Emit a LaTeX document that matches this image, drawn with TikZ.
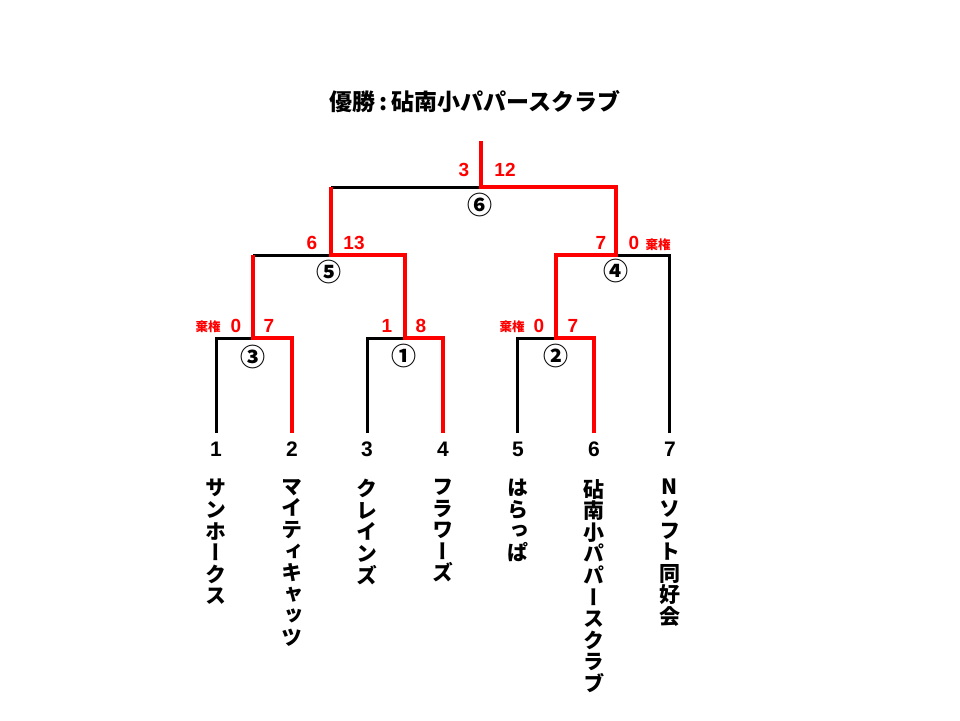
\documentclass[tikz,border=0pt]{standalone}
\usepackage{fontspec}
\newfontfamily\jp{Noto Sans CJK JP}
\newfontfamily\jpv{Noto Sans CJK JP}[RawFeature=+vert]
\newfontfamily\lat{Liberation Sans}
\begin{document}
\begin{tikzpicture}[x=1pt,y=-1pt,
  blk/.style={line width=3pt,black,line join=miter},
  win/.style={line width=4pt,red,line join=miter},
  score/.style={inner sep=0pt,text=red,font=\lat\bfseries\fontsize{19}{19}\selectfont},
  forfeit/.style={inner sep=0pt,text=red,font=\jp\bfseries\fontsize{12.5}{12.5}\selectfont},
  mnum/.style={inner sep=0pt,font=\jp\bfseries\fontsize{25}{25}\selectfont},
  seed/.style={inner sep=0pt,font=\lat\bfseries\fontsize{21}{21}\selectfont},
  team/.style={anchor=north,inner sep=0pt,align=center,font=\jpv\bfseries\fontsize{21}{21.6}\selectfont}]
\useasboundingbox (0,0) rectangle (960,720);
% coordinates
\coordinate (t1) at (216,433);
\coordinate (t2) at (292,433);
\coordinate (t3) at (367,433);
\coordinate (t4) at (443,433);
\coordinate (t5) at (517,433);
\coordinate (t6) at (594,433);
\coordinate (t7) at (669,433);
\coordinate (m3) at (253,338);
\coordinate (m1) at (405,338);
\coordinate (m2) at (556,338);
\coordinate (a3) at (253,255);
\coordinate (a1) at (405,255);
\coordinate (a2) at (556,255);
\coordinate (m5) at (331,255);
\coordinate (m4) at (616,255);
\coordinate (b5) at (331,187);
\coordinate (b4) at (616,187);
\coordinate (m6) at (481,187);
\coordinate (top) at (481,141);
% losing branches
\draw[blk] (t1) |- (m3);
\draw[blk] (t3) |- (m1);
\draw[blk] (t5) |- (m2);
\draw[blk] (t7) |- (m4);
\draw[blk] (a3) -- (m5);
\draw[blk] (b5) -- (m6);
% winning branches
\draw[win] (t2) |- (m3) -- (a3);
\draw[win] (t4) |- (m1) -- (a1) -- (m5) -- (b5);
\draw[win] (t6) |- (m2) -- (a2) -- (m4) -- (b4) -- (m6) -- (top);
% title
\node[inner sep=0pt,font=\jp\bfseries\fontsize{23}{23}\selectfont] (title) at (475,102) {優勝\,:\,砧南小パパースクラブ};
% match numbers
\node[mnum] (n6) at (480,205) {⑥};
\node[mnum] (n5) at (329,272) {⑤};
\node[mnum] (n4) at (616,271) {④};
\node[mnum] (n3) at (253,357) {③};
\node[mnum] (n1) at (404,356) {①};
\node[mnum] (n2) at (556,356) {②};
% scores
\node[score] (s6l) at (464,170) {3};
\node[score] (s6r) at (505,170) {12};
\node[score] (s5l) at (312,243) {6};
\node[score] (s5r) at (354,243) {13};
\node[score] (s4l) at (601,243) {7};
\node[score] (s4r) at (634,243) {0};
\node[forfeit] (f4) at (658,245) {棄権};
\node[forfeit] (f3) at (208,327) {棄権};
\node[score] (s3l) at (236,326) {0};
\node[score] (s3r) at (269,326) {7};
\node[score] (s1l) at (387,326) {1};
\node[score] (s1r) at (421,326) {8};
\node[forfeit] (f2) at (512,327) {棄権};
\node[score] (s2l) at (539,326) {0};
\node[score] (s2r) at (573,326) {7};
% seeds
\node[seed] (d1) at (216,449) {1};
\node[seed] (d2) at (292,449) {2};
\node[seed] (d3) at (367,449) {3};
\node[seed] (d4) at (443,449) {4};
\node[seed] (d5) at (518,449) {5};
\node[seed] (d6) at (594,449) {6};
\node[seed] (d7) at (670,449) {7};
% teams
\node[team] (team1) at (216,479) {サ\\ン\\ホ\\ー\\ク\\ス};
\node[team] (team2) at (292,479) {マ\\イ\\テ\\ィ\\キ\\ャ\\ッ\\ツ};
\node[team] (team3) at (367,479) {ク\\レ\\イ\\ン\\ズ};
\node[team] (team4) at (443,479) {フ\\ラ\\ワ\\ー\\ズ};
\node[team] (team5) at (518,479) {は\\ら\\っ\\ぱ};
\node[team] (team6) at (594,479) {砧\\南\\小\\パ\\パ\\ー\\ス\\ク\\ラ\\ブ};
\node[team] (team7) at (670,479) {N\\ソ\\フ\\ト\\同\\好\\会};
\end{tikzpicture}
\end{document}
